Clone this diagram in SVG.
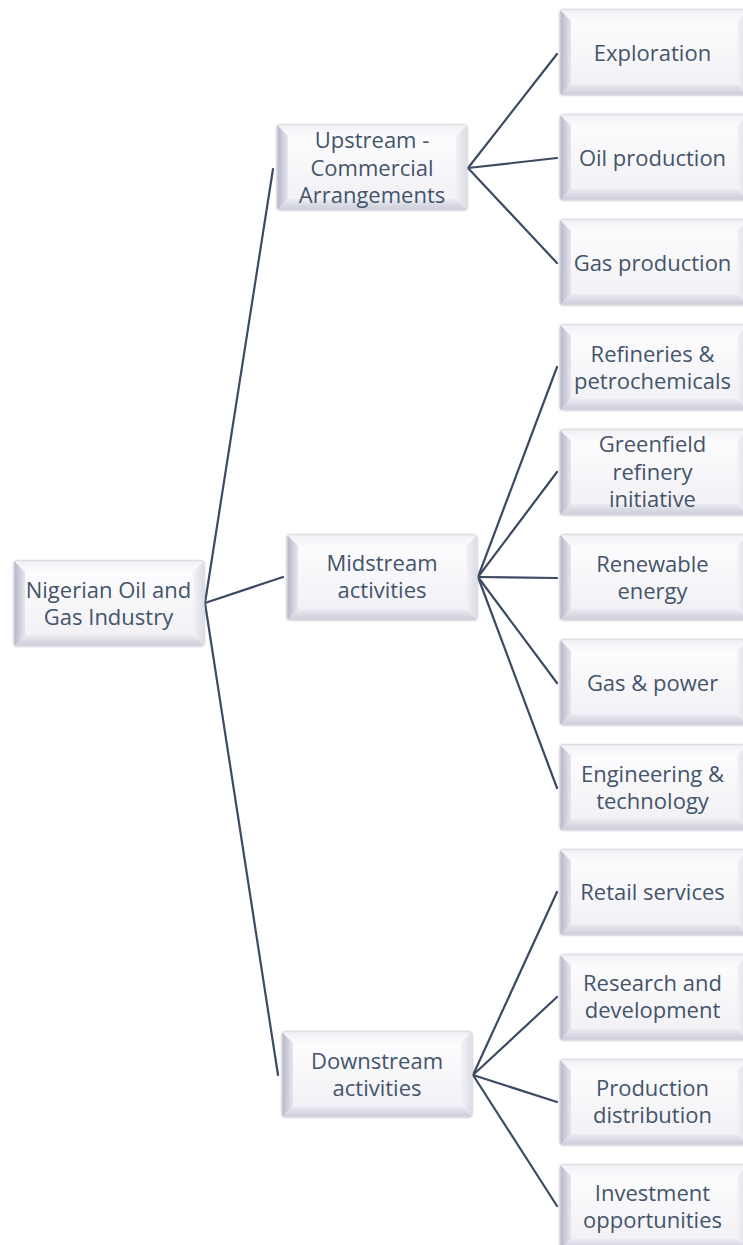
<svg xmlns="http://www.w3.org/2000/svg" xmlns:xlink="http://www.w3.org/1999/xlink" width="743" height="1245" viewBox="0 0 743 1245">
  <style>
    .lbl { font-family: "Open Sans", "Liberation Sans", sans-serif; font-size: 22px; fill: #44546a; text-anchor: middle; }
    .conn { stroke: #3c4a62; stroke-width: 2.2; fill: none; stroke-linecap: round; }
  </style>
  <defs>
    <linearGradient id="face" x1="0" y1="0" x2="0" y2="1">
      <stop offset="0" stop-color="#fefeff"/>
      <stop offset="1" stop-color="#f0f0f5"/>
    </linearGradient>
    <linearGradient id="bevL" x1="0" y1="0" x2="1" y2="0">
      <stop offset="0" stop-color="#b8b7ca"/>
      <stop offset="1" stop-color="#e6e6ef"/>
    </linearGradient>
    <linearGradient id="bevB" x1="0" y1="0" x2="0" y2="1">
      <stop offset="0" stop-color="#ebebf2"/>
      <stop offset="1" stop-color="#cdcdda"/>
    </linearGradient>
    <linearGradient id="bevT" x1="0" y1="0" x2="0" y2="1">
      <stop offset="0" stop-color="#f2f2f6"/>
      <stop offset="1" stop-color="#fbfbfd"/>
    </linearGradient>
    <linearGradient id="bevR" x1="0" y1="0" x2="1" y2="0">
      <stop offset="0" stop-color="#f3f3f7"/>
      <stop offset="1" stop-color="#dcdce5"/>
    </linearGradient>
    <filter id="soft" x="-10%" y="-10%" width="120%" height="120%">
      <feDropShadow dx="0" dy="0" stdDeviation="1.2" flood-color="#8d8d9c" flood-opacity="0.45"/>
    </filter>
    <!-- bevelled box, 190 x 85 -->
    <g id="box190">
      <rect x="0" y="0" width="190" height="85" rx="3" fill="url(#face)" stroke="#d2d2da" stroke-width="1" filter="url(#soft)"/>
      <polygon points="0.5,0.5 189.5,0.5 179,11 11,11" fill="url(#bevT)"/>
      <polygon points="189.5,0.5 189.5,84.5 179,74 179,11" fill="url(#bevR)"/>
      <polygon points="0.5,84.5 11,74 179,74 189.5,84.5" fill="url(#bevB)"/>
      <polygon points="0.5,0.5 11,11 11,74 0.5,84.5" fill="url(#bevL)"/>
    </g>
    <!-- bevelled box, 188 x 85 (runs off the right edge) -->
    <g id="box188">
      <rect x="0" y="0" width="188" height="85" rx="3" fill="url(#face)" stroke="#d2d2da" stroke-width="1" filter="url(#soft)"/>
      <polygon points="0.5,0.5 187.5,0.5 177,11 11,11" fill="url(#bevT)"/>
      <polygon points="187.5,0.5 187.5,84.5 177,74 177,11" fill="url(#bevR)"/>
      <polygon points="0.5,84.5 11,74 177,74 187.5,84.5" fill="url(#bevB)"/>
      <polygon points="0.5,0.5 11,11 11,74 0.5,84.5" fill="url(#bevL)"/>
    </g>
  </defs>

  <rect width="743" height="1245" fill="#ffffff"/>

  <!-- connectors -->
  <g id="connectors">
    <line class="conn" x1="205" y1="603" x2="273" y2="169"/>
    <line class="conn" x1="205" y1="603" x2="283" y2="577"/>
    <line class="conn" x1="205" y1="603" x2="278" y2="1075"/>

    <line class="conn" x1="468" y1="168" x2="557" y2="54"/>
    <line class="conn" x1="468" y1="168" x2="557" y2="158"/>
    <line class="conn" x1="468" y1="168" x2="557" y2="263"/>

    <line class="conn" x1="478" y1="577" x2="557" y2="367"/>
    <line class="conn" x1="478" y1="577" x2="557" y2="472"/>
    <line class="conn" x1="478" y1="577" x2="557" y2="578"/>
    <line class="conn" x1="478" y1="577" x2="557" y2="683"/>
    <line class="conn" x1="478" y1="577" x2="557" y2="788"/>

    <line class="conn" x1="473" y1="1075" x2="557" y2="892"/>
    <line class="conn" x1="473" y1="1075" x2="557" y2="997"/>
    <line class="conn" x1="473" y1="1075" x2="557" y2="1102"/>
    <line class="conn" x1="473" y1="1075" x2="557" y2="1206"/>
  </g>

  <!-- root -->
  <g id="root">
    <use xlink:href="#box190" x="14" y="561"/>
    <text class="lbl" x="108.5" y="598">Nigerian Oil and</text>
    <text class="lbl" x="108.5" y="625">Gas Industry</text>
  </g>

  <!-- second level -->
  <g id="upstream">
    <use xlink:href="#box190" x="277" y="125"/>
    <text class="lbl" x="372" y="148">Upstream -</text>
    <text class="lbl" x="372" y="175.5">Commercial</text>
    <text class="lbl" x="372" y="203">Arrangements</text>
  </g>
  <g id="midstream">
    <use xlink:href="#box190" x="287" y="535"/>
    <text class="lbl" x="382" y="571">Midstream</text>
    <text class="lbl" x="382" y="598">activities</text>
  </g>
  <g id="downstream">
    <use xlink:href="#box190" x="282" y="1032"/>
    <text class="lbl" x="377" y="1069">Downstream</text>
    <text class="lbl" x="377" y="1096">activities</text>
  </g>

  <!-- leaves: upstream -->
  <g id="exploration">
    <use xlink:href="#box188" x="560" y="10"/>
    <text class="lbl" x="652.5" y="61">Exploration</text>
  </g>
  <g id="oil-production">
    <use xlink:href="#box188" x="560" y="115"/>
    <text class="lbl" x="652.5" y="166">Oil production</text>
  </g>
  <g id="gas-production">
    <use xlink:href="#box188" x="560" y="220"/>
    <text class="lbl" x="652.5" y="271">Gas production</text>
  </g>

  <!-- leaves: midstream -->
  <g id="refineries">
    <use xlink:href="#box188" x="560" y="325"/>
    <text class="lbl" x="652.5" y="362">Refineries &amp;</text>
    <text class="lbl" x="652.5" y="389">petrochemicals</text>
  </g>
  <g id="greenfield">
    <use xlink:href="#box188" x="560" y="430"/>
    <text class="lbl" x="652.5" y="452">Greenfield</text>
    <text class="lbl" x="652.5" y="480">refinery</text>
    <text class="lbl" x="652.5" y="507">initiative</text>
  </g>
  <g id="renewable">
    <use xlink:href="#box188" x="560" y="535"/>
    <text class="lbl" x="652.5" y="572">Renewable</text>
    <text class="lbl" x="652.5" y="599">energy</text>
  </g>
  <g id="gas-power">
    <use xlink:href="#box188" x="560" y="640"/>
    <text class="lbl" x="652.5" y="691">Gas &amp; power</text>
  </g>
  <g id="engineering">
    <use xlink:href="#box188" x="560" y="745"/>
    <text class="lbl" x="652.5" y="782">Engineering &amp;</text>
    <text class="lbl" x="652.5" y="809">technology</text>
  </g>

  <!-- leaves: downstream -->
  <g id="retail">
    <use xlink:href="#box188" x="560" y="850"/>
    <text class="lbl" x="652.5" y="900">Retail services</text>
  </g>
  <g id="research">
    <use xlink:href="#box188" x="560" y="955"/>
    <text class="lbl" x="652.5" y="991">Research and</text>
    <text class="lbl" x="652.5" y="1018">development</text>
  </g>
  <g id="production-distribution">
    <use xlink:href="#box188" x="560" y="1060"/>
    <text class="lbl" x="652.5" y="1096">Production</text>
    <text class="lbl" x="652.5" y="1123">distribution</text>
  </g>
  <g id="investment">
    <use xlink:href="#box188" x="560" y="1165"/>
    <text class="lbl" x="652.5" y="1201">Investment</text>
    <text class="lbl" x="652.5" y="1228">opportunities</text>
  </g>
</svg>
